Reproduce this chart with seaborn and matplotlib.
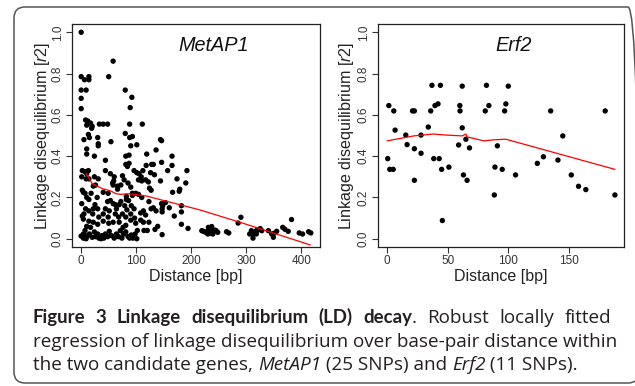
import matplotlib
matplotlib.use("Agg")
import matplotlib.pyplot as plt
import seaborn as sns
import pandas as pd
from matplotlib.patches import FancyBboxPatch

# ---------------- data ----------------
metap_dist = [0, 58, 50, 0, 6, 14, 14, 0, 9, 0, 0, 80, 92, 89, 88, 111, 8, 12, 17, 10, 20, 33, 40, 48, 19,
              54, 80, 5, 15, 13, 88, 90, 93, 101, 144, 146, 30, 31, 31, 10, 10, 44, 24, 81, 87, 81, 84, 87,
              136, 119, 165, 146, 165, 192, 190, 174, 157, 118, 128, 131, 126, 133, 96, 101, 105, 109, 112,
              104, 44, 53, 60, 59, 2, 7, 10, 13, 1, 9, 14, 24, 31, 57, 58, 75, 78, 72, 110, 117, 122, 144,
              2, 4, 7, 22, 26, 18, 40, 49, 66, 66, 85, 90, 124, 127, 179, 178, 166, 93, 99, 93, 104, 110,
              82, 82, 86, 10, 14, 29, 25, 1, 53, 48, 58, 62, 69, 72, 123, 146, 153, 182, 160, 182, 169, 182,
              194, 148, 147, 147, 127, 136, 131, 113, 108, 117, 91, 96, 90, 97, 79, 83, 75, 81, 64, 62, 68,
              44, 40, 51, 49, 22, 30, 21, 32, 8, 14, 5, 2, 4, 14, 22, 30, 10, 17, 40, 50, 58, 69, 76, 81,
              90, 99, 108, 113, 123, 139, 102, 114, 120, 134, 147,
              0, 4, 7, 9, 12, 15, 20, 24, 26, 30, 32, 36, 38, 41, 44, 48, 51, 55, 60, 64, 68, 71, 74, 77,
              81, 85, 88, 91, 94, 98, 101, 4, 7,
              219, 222, 226, 230, 233, 239, 230, 234, 239, 243, 245, 248, 231, 237, 234, 264, 268, 285, 290,
              306, 309, 312, 315, 318, 321, 325, 328, 312, 318, 340, 346, 349, 355, 350, 366, 370, 376, 382,
              396, 402, 413, 417]
metap_r2 = [1.0, 0.86, 0.785, 0.785, 0.77, 0.785, 0.77, 0.72, 0.72, 0.68, 0.63, 0.72, 0.685, 0.635, 0.555,
            0.555, 0.575, 0.57, 0.56, 0.55, 0.545, 0.555, 0.555, 0.555, 0.535,
            0.47, 0.51, 0.48, 0.49, 0.505, 0.49, 0.45, 0.495, 0.455, 0.48, 0.475, 0.49, 0.46, 0.45, 0.435,
            0.41, 0.38, 0.40, 0.40, 0.405, 0.36, 0.35, 0.365,
            0.43, 0.41, 0.40, 0.37, 0.355, 0.33, 0.27, 0.29, 0.33, 0.355, 0.36, 0.36, 0.32, 0.31, 0.33,
            0.32, 0.315, 0.30, 0.33, 0.285, 0.33, 0.315, 0.30, 0.28, 0.33, 0.325, 0.315, 0.33, 0.30, 0.29,
            0.29, 0.30, 0.29, 0.27, 0.26, 0.305, 0.285, 0.26, 0.28, 0.285, 0.275, 0.28,
            0.235, 0.225, 0.22, 0.255, 0.26, 0.22, 0.225, 0.22, 0.255, 0.24, 0.27, 0.25, 0.245, 0.235,
            0.24, 0.23, 0.225, 0.22, 0.22, 0.21, 0.215, 0.2,
            0.205, 0.19, 0.185, 0.2, 0.19, 0.2, 0.165, 0.17, 0.185, 0.18, 0.17, 0.165, 0.165, 0.18, 0.18,
            0.17, 0.175, 0.16, 0.15, 0.13, 0.11, 0.07,
            0.05, 0.16, 0.145, 0.13, 0.145, 0.135, 0.15, 0.135, 0.125, 0.115, 0.16, 0.145, 0.12, 0.10,
            0.16, 0.14, 0.12, 0.105, 0.145, 0.12, 0.105,
            0.145, 0.12, 0.135, 0.105, 0.145, 0.145, 0.12, 0.105, 0.145, 0.135, 0.12, 0.11, 0.095, 0.085,
            0.08, 0.07, 0.06, 0.055, 0.085, 0.075, 0.08, 0.08, 0.055, 0.065,
            0.09, 0.075, 0.09, 0.08, 0.08, 0.06, 0.04, 0.04, 0.04, 0.045, 0.02,
            0.013, 0.003, 0.01, 0.0, 0.015, 0.023, 0.007, 0.033, 0.01, 0.023, 0.003, 0.0, 0.015, 0.003,
            0.023, 0.01, 0.036, 0.015, 0.003, 0.023, 0.01, 0.039, 0.003, 0.023, 0.033, 0.011, 0.003,
            0.018, 0.003, 0.023, 0.0, 0.023, 0.04,
            0.039, 0.036, 0.031, 0.039, 0.042, 0.036, 0.023, 0.026, 0.023, 0.042, 0.039, 0.031, 0.055,
            0.059, 0.049, 0.034, 0.028, 0.076, 0.104,
            0.023, 0.039, 0.003, 0.031, 0.039, 0.042, 0.049, 0.039, 0.023, 0.023, 0.039, 0.023, 0.007,
            0.036, 0.026, 0.055, 0.046, 0.036, 0.093, 0.028, 0.023, 0.034, 0.028]

metap_fit_x = [9, 20, 38, 54, 63, 72, 87, 118, 215, 288, 416]
metap_fit_y = [0.316, 0.267, 0.243, 0.231, 0.218, 0.215, 0.218, 0.207, 0.14, 0.08, -0.03]

erf2_dist = [0.5, 1.4, 2.2, 5, 5.5, 6.6, 15.4, 16.5, 21, 22.5, 22.5, 22.5, 28, 28, 34, 36, 37, 38.5, 39.5,
             42, 43, 44, 45, 45.6, 51, 59, 60, 60.2, 62, 62, 63, 65, 66, 68, 81, 82, 84, 88.5, 89, 91, 95,
             97, 98, 100, 106, 124, 129, 135, 141, 145, 152, 158, 164, 180, 188]
erf2_r2 = [0.388, 0.645, 0.336, 0.336, 0.619, 0.526, 0.502, 0.456, 0.619, 0.619, 0.436, 0.283, 0.502,
           0.414, 0.541, 0.619, 0.743, 0.388, 0.645, 0.653, 0.388, 0.743, 0.336, 0.088, 0.347, 0.454,
           0.645, 0.619, 0.739, 0.537, 0.309, 0.482, 0.283, 0.44, 0.619, 0.743, 0.645, 0.212, 0.347,
           0.45, 0.336, 0.619, 0.653, 0.739, 0.309, 0.365, 0.397, 0.619, 0.381, 0.498, 0.309, 0.254,
           0.238, 0.619, 0.212]

erf2_fit_x = [0, 22, 38, 49, 62, 65, 66, 80, 88, 98, 188]
erf2_fit_y = [0.474, 0.498, 0.507, 0.502, 0.498, 0.507, 0.493, 0.474, 0.479, 0.482, 0.336]

y_ticks = [0.0, 0.2, 0.4, 0.6, 0.8, 1.0]
metap_xticks = [0, 100, 200, 300, 400]
erf2_xticks = [0, 50, 100, 150]

# ---------------- style ----------------
sns.set_theme(style="white")
plt.rcParams["font.family"] = ["Liberation Sans", "DejaVu Sans"]
plt.rcParams["mathtext.fontset"] = "custom"
plt.rcParams["mathtext.it"] = "Liberation Sans:italic"
plt.rcParams["mathtext.rm"] = "Liberation Sans"

W, H = 635, 386
fig = plt.figure(figsize=(W / 100, H / 100), dpi=100)
renderer = fig.canvas.get_renderer()

# rounded frame
frame = FancyBboxPatch((0.14, 0.03), 6.39 - 0.14, 3.79 - 0.03,
                       boxstyle="round,pad=0,rounding_size=0.11",
                       transform=fig.dpi_scale_trans, fill=False,
                       edgecolor="#555555", linewidth=1.1)
fig.patches.append(frame)


def fit_size(text_artist, target_px, horizontal=True):
    fs = text_artist.get_fontsize()
    bb = text_artist.get_window_extent(renderer)
    cur = bb.width if horizontal else bb.height
    text_artist.set_fontsize(fs * target_px / cur)


def panel(rect, dist, r2, fx, fy, xticks, title, title_x, ylab_x_px):
    ax = fig.add_axes(rect)
    df = pd.DataFrame({"d": dist, "r": r2})
    sns.scatterplot(data=df, x="d", y="r", ax=ax, color="black", s=15,
                    edgecolor="none", linewidth=0)
    sns.lineplot(x=fx, y=fy, ax=ax, color="red", linewidth=0.9,
                 estimator=None, sort=True)
    xr = max(dist) - min(min(dist), 0)
    ax.set_xlim(min(0, min(dist)) - 0.04 * xr, max(dist) + 0.04 * xr)
    ax.set_ylim(-0.04, 1.04)
    ax.set_xticks(xticks)
    ax.set_xticklabels([str(t) for t in xticks])
    ax.set_yticks(y_ticks)
    ax.set_yticklabels([f"{t:.1f}" for t in y_ticks])
    ax.tick_params(direction="out", length=4, width=0.8, labelsize=8.5,
                   colors="#333333", pad=2, bottom=True, left=True)
    for lab in ax.get_yticklabels():
        lab.set_rotation(90)
        lab.set_va("center")
    for sp in ax.spines.values():
        sp.set_visible(True)
        sp.set_color("#222222")
        sp.set_linewidth(0.9)
    ax.set_xlabel("Distance [bp]", fontsize=11, color="#222222")
    ax.set_ylabel(r"Linkage disequilibrium [$\mathit{r2}$]", fontsize=11,
                  color="#222222")
    fit_size(ax.xaxis.label, 93, True)
    fit_size(ax.yaxis.label, 188, False)
    x0, y0 = rect[0] * W, rect[1] * H
    w, h = rect[2] * W, rect[3] * H
    ax.xaxis.set_label_coords(0.5, ((H - 277) - y0) / h)
    ax.xaxis.label.set_va("center")
    ax.yaxis.set_label_coords((ylab_x_px - x0) / w, 0.5)
    ax.yaxis.label.set_va("center")
    ax.text(title_x, 0.905, title, transform=ax.transAxes, fontsize=14.3,
            fontstyle="italic", ha="center", va="center", color="#111111")
    return ax


panel([72 / W, (H - 247) / H, 248 / W, 223 / H], metap_dist, metap_r2,
      metap_fit_x, metap_fit_y, metap_xticks, "MetAP1", 0.57, 43)
panel([378 / W, (H - 247) / H, 246 / W, 223 / H], erf2_dist, erf2_r2,
      erf2_fit_x, erf2_fit_y, erf2_xticks, "Erf2", 0.55, 347)

# ---------------- caption ----------------
# line 1 as justified word units; each unit is a list of (text, weight)
cap_line1_units = [[("Figure", "bold")], [("3", "bold")], [("Linkage", "bold")],
                   [("disequilibrium", "bold")], [("(LD)", "bold")],
                   [("decay", "bold"), (".", "normal")],
                   [("Robust", "normal")], [("locally", "normal")], [("fitted", "normal")]]
cap_line2 = "regression of linkage disequilibrium over base-pair distance within"
cap_line3 = [("the two candidate genes, ", "normal"), ("MetAP1", "italic"),
             (" (25 SNPs) and ", "normal"), ("Erf2", "italic"),
             (" (11 SNPs).", "normal")]
cap_baselines = [323, 347, 370]
cap_x0 = 33
cap_x1 = 611
CAP_COLOR = "#231f20"


def put(x_px, y_px, txt, size, weight="normal", style="normal"):
    if weight == "bold":
        fam, size = "Lato", size * 0.99
    else:
        fam = "Open Sans"
    return fig.text(x_px / W, 1 - y_px / H, txt, fontsize=size, fontweight=weight,
                    fontstyle=style, family=[fam, "DejaVu Sans"],
                    ha="left", va="baseline", color=CAP_COLOR)


# size: line 2 fills the full caption width
probe = put(cap_x0, cap_baselines[1], cap_line2, 12)
size = 12 * (cap_x1 - cap_x0) / probe.get_window_extent(renderer).width
probe.remove()

# line 1 (justified)
unit_arts = []
unit_w = []
for unit in cap_line1_units:
    arts = [put(0, cap_baselines[0], txt, size, weight=wt) for txt, wt in unit]
    ws = [a.get_window_extent(renderer).width for a in arts]
    unit_arts.append((arts, ws))
    unit_w.append(sum(ws))
gap = (cap_x1 - cap_x0 - sum(unit_w)) / (len(cap_line1_units) - 1)
x = cap_x0
for (arts, ws), uw in zip(unit_arts, unit_w):
    xx = x
    for a, wi in zip(arts, ws):
        a.set_x(xx / W)
        xx += wi
    x += uw + gap

# line 2
put(cap_x0, cap_baselines[1], cap_line2, size)

# line 3
x = cap_x0
for txt, st in cap_line3:
    t = put(x, cap_baselines[2], txt, size, style=st)
    x = t.get_window_extent(renderer).x1

fig.savefig("out.png", dpi=100)
